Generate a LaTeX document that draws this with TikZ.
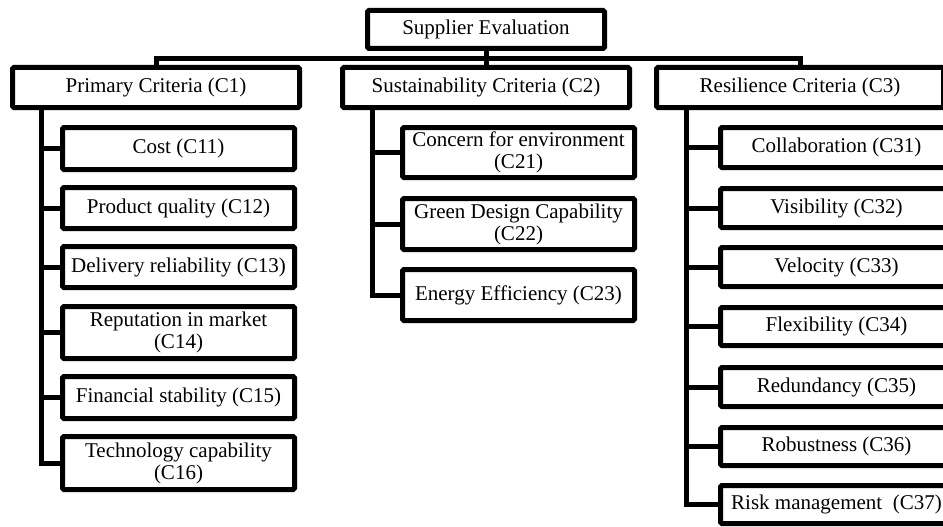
\documentclass[tikz,border=0pt]{standalone}
\usepackage{fontspec}
\setmainfont{Liberation Serif}
\begin{document}
\begin{tikzpicture}[x=1pt,y=-1pt,
  box/.style={draw=black, line width=5pt, rounded corners=1.5pt, fill=white,
    inner sep=0pt, outer sep=0pt, align=center,
    font=\fontsize{21}{22}\selectfont, text=black},
  parent/.style={box, minimum width=287pt, minimum height=40pt},
  child/.style={box, minimum width=232pt},
  link/.style={draw=black, line width=5pt, line join=miter}
]
\clip (0,0) rectangle (943,527);
\fill[white] (0,0) rectangle (943,527);

% root
\node[box, minimum width=237pt, minimum height=38pt] (root) at (486,29.5) {Supplier Evaluation};

% parents
\node[parent] (p1) at (156,87.5) {Primary Criteria (C1)};
\node[parent] (p2) at (486,87.5) {Sustainability Criteria (C2)};
\node[parent] (p3) at (800,87.5) {Resilience Criteria (C3)};

% top connectors
\draw[link] (p1.north) |- (486,58.5) -| (p3.north);
\draw[link] (root.south) -- (p2.north);

% Primary children
\node[child, minimum height=42pt] (c11) at (178.5,148.5) {Cost (C11)};
\node[child, minimum height=41pt] (c12) at (178.5,208) {Product quality (C12)};
\node[child, minimum height=41pt] (c13) at (178.5,267) {Delivery reliability (C13)};
\node[child, minimum height=52pt] (c14) at (178.5,332.5) {Reputation in market\\(C14)};
\node[child, minimum height=42pt] (c15) at (178.5,397.5) {Financial stability (C15)};
\node[child, minimum height=53pt] (c16) at (178.5,463) {Technology capability\\(C16)};

% Sustainability children
\node[child, minimum height=50pt] (c21) at (518.5,152.5) {Concern for environment\\(C21)};
\node[child, minimum height=51pt] (c22) at (518.5,224) {Green Design Capability\\(C22)};
\node[child, minimum height=51pt] (c23) at (518.5,295) {Energy Efficiency (C23)};

% Resilience children
\node[child, minimum height=40pt] (c31) at (836.5,147.5) {Collaboration (C31)};
\node[child, minimum height=39pt] (c32) at (836.5,208) {Visibility (C32)};
\node[child, minimum height=39pt] (c33) at (836.5,267) {Velocity (C33)};
\node[child, minimum height=38pt] (c34) at (836.5,326.5) {Flexibility (C34)};
\node[child, minimum height=39pt] (c35) at (836.5,387) {Redundancy (C35)};
\node[child, minimum height=38pt] (c36) at (836.5,446.5) {Robustness (C36)};
\node[child, minimum height=38pt] (c37) at (836.5,504.5) {Risk management~~(C37)};

% Primary tree
\coordinate (v1) at (41,0);
\draw[link] (p1.south -| v1) |- (c16.west);
\foreach \c in {c11,c12,c13,c14,c15}
  \draw[link] (v1 |- \c.west) -- (\c.west);

% Sustainability tree
\coordinate (v2) at (372,0);
\draw[link] (p2.south -| v2) |- (c23.west);
\foreach \c in {c21,c22}
  \draw[link] (v2 |- \c.west) -- (\c.west);

% Resilience tree
\coordinate (v3) at (686,0);
\draw[link] (p3.south -| v3) |- (c37.west);
\foreach \c in {c31,c32,c33,c34,c35,c36}
  \draw[link] (v3 |- \c.west) -- (\c.west);
\end{tikzpicture}
\end{document}
